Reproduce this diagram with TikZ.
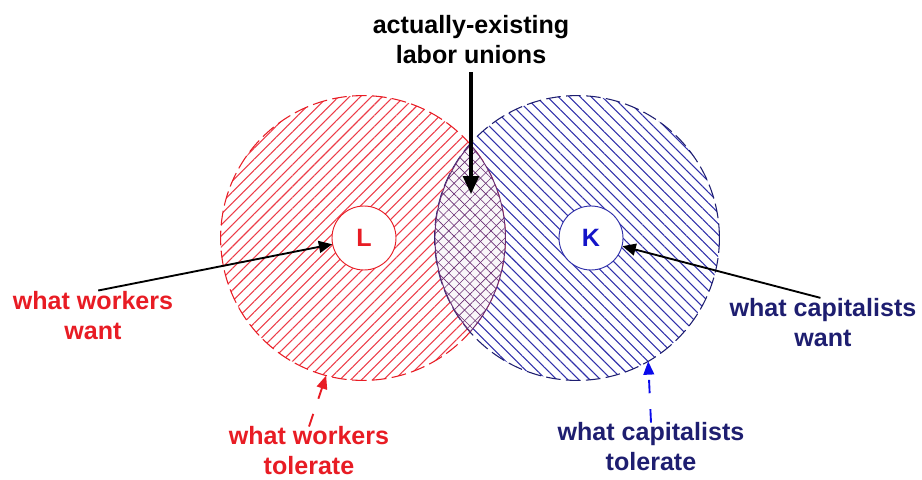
\documentclass[tikz,border=0pt]{standalone}
\usepackage{xcolor}
\usepackage{fontspec}
\setmainfont{Liberation Sans}
\usepackage{tikz}
\usetikzlibrary{arrows.meta, patterns.meta}

\definecolor{wred}{RGB}{232,28,36}
\definecolor{hred}{RGB}{236,60,72}
\definecolor{knavy}{RGB}{30,30,112}
\definecolor{hblue}{RGB}{48,48,170}
\definecolor{kblue}{RGB}{20,20,200}
\definecolor{tblue}{RGB}{10,10,235}
\definecolor{lenspurple}{RGB}{105,45,115}

\begin{document}
\begin{tikzpicture}[
  x=0.75pt, y=-0.75pt,
  >=Latex,
  lbl/.style={font=\fontsize{18.8}{22.5}\selectfont\bfseries, align=center, inner sep=0pt},
  setcirc/.style={circle, minimum size=213.6pt, inner sep=0pt, outer sep=0pt,
                  line width=0.8pt, dash pattern=on 11pt off 4pt},
  core/.style={circle, fill=white, minimum size=48pt, inner sep=0pt, line width=0.7pt,
               font=\fontsize{18.8}{22.5}\selectfont\bfseries},
  arrow/.style={-{Triangle[length=10pt,width=9pt]}, line width=1.4pt},
  bigarrow/.style={-{Triangle[length=13.5pt,width=12pt]}, line width=2.3pt},
  tolarrow/.style={-{Triangle[length=10pt,width=8pt]}, line width=1.4pt,
                   dash pattern=on 10pt off 12pt},
]
\useasboundingbox (0,0) rectangle (922,479);

%% ── Ensembles : ce que chaque classe tolère ─────────────────────────────
\node[setcirc, draw=wred, pattern={Lines[angle=45,distance=5.8pt,line width=0.8pt]},
      pattern color=hred] (redset) at (363,238) {};
\node[setcirc, draw=knavy, pattern={Lines[angle=-45,distance=5.8pt,line width=0.8pt]},
      pattern color=hblue] (blueset) at (577,238) {};

%% ── Intersection (syndicats) ────────────────────────────────────────────
\begin{scope}
  \clip (redset.center) circle (106.8pt);
  \fill[lenspurple!4] (blueset.center) circle (106.5pt);
  \fill[pattern={Lines[angle=45,distance=5.6pt,line width=0.45pt]},
        pattern color=lenspurple] (blueset.center) circle (106.5pt);
  \fill[pattern={Lines[angle=-45,distance=5.6pt,line width=0.45pt]},
        pattern color=lenspurple] (blueset.center) circle (106.5pt);
  \draw[lenspurple, line width=0.7pt] (blueset.center) circle (106.5pt);
\end{scope}
\begin{scope}
  \clip (blueset.center) circle (106.5pt);
  \draw[lenspurple, line width=0.7pt] (redset.center) circle (106.8pt);
\end{scope}

%% ── Ce que chaque classe veut ───────────────────────────────────────────
\node[core, draw=wred, text=wred] (L) at (364,238) {L};
\node[core, draw=hblue, text=kblue] (K) at (591,238) {K};

%% ── Étiquettes ──────────────────────────────────────────────────────────
\node[lbl] (unions) at (471,40) {actually-existing\\labor unions};
\node[lbl, text=wred] (wwant) at (93,316) {what workers\\want};
\node[lbl, text=wred] (wtol) at (309,451) {what workers\\tolerate};
\node[lbl, text=knavy] (kwant) at (823,323) {what capitalists\\want};
\node[lbl, text=knavy] (ktol) at (651,447) {what capitalists\\tolerate};

\coordinate (lenstop) at (471,194);

%% ── Flèches ─────────────────────────────────────────────────────────────
\draw[bigarrow, shorten <=6pt] (unions.south) -- (lenstop);
\draw[arrow, shorten <=4pt] (wwant.north) -- (L);
\draw[arrow, shorten <=2pt] (kwant.north) -- (K);
\draw[tolarrow, wred] (wtol.north) -- (redset.255);
\draw[tolarrow, tblue] (ktol.north) -- (blueset.300);

\end{tikzpicture}
\end{document}
